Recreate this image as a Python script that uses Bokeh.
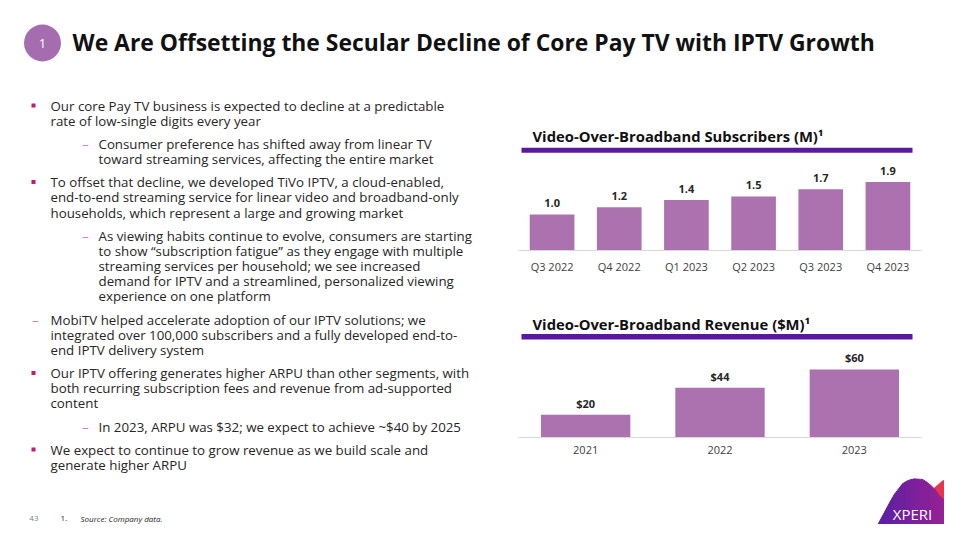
import numpy as np
from bokeh.plotting import figure
from bokeh.layouts import column, row
from bokeh.models import Range1d, FactorRange, ColumnDataSource, LabelSet
from bokeh.core.properties import value
from bokeh.embed import file_html
from bokeh.resources import INLINE

# ---------------- data ----------------
quarters = ["Q3 2022", "Q4 2022", "Q1 2023", "Q2 2023", "Q3 2023", "Q4 2023"]
subscribers = [1.0, 1.2, 1.4, 1.5, 1.7, 1.9]
subscriber_labels = ["1.0", "1.2", "1.4", "1.5", "1.7", "1.9"]

years = ["2021", "2022", "2023"]
revenue = [20, 44, 60]
revenue_labels = ["$20", "$44", "$60"]

slide_title = "We Are Offsetting the Secular Decline of Core Pay TV with IPTV Growth"
chart1_title = "Video-Over-Broadband Subscribers (M)\u00b9"
chart2_title = "Video-Over-Broadband Revenue ($M)\u00b9"

paragraphs = [
    ("bullet", 0, ["Our core Pay TV business is expected to decline at a predictable",
                   "rate of low-single digits every year"]),
    ("dash", 1, ["Consumer preference has shifted away from linear TV",
                 "toward streaming services, affecting the entire market"]),
    ("bullet", 0, ["To offset that decline, we developed TiVo IPTV, a cloud-enabled,",
                   "end-to-end streaming service for linear video and broadband-only",
                   "households, which represent a large and growing market"]),
    ("dash", 1, ["As viewing habits continue to evolve, consumers are starting",
                 "to show \u201csubscription fatigue\u201d as they engage with multiple",
                 "streaming services per household; we see increased",
                 "demand for IPTV and a streamlined, personalized viewing",
                 "experience on one platform"]),
    ("dash", 0, ["MobiTV helped accelerate adoption of our IPTV solutions; we",
                 "integrated over 100,000 subscribers and a fully developed end-to-",
                 "end IPTV delivery system"]),
    ("bullet", 0, ["Our IPTV offering generates higher ARPU than other segments, with",
                   "both recurring subscription fees and revenue from ad-supported",
                   "content"]),
    ("dash", 1, ["In 2023, ARPU was $32; we expect to achieve ~$40 by 2025"]),
    ("bullet", 0, ["We expect to continue to grow revenue as we build scale and",
                   "generate higher ARPU"]),
]

page_number = "43"
footnote_mark = "1."
footnote_text = "Source: Company data."
logo_text = "XPERI"

# ---------------- style ----------------
FONT = "Open Sans"
BAR = "#AC72B0"
RULE = "#5A189E"
TEXT = "#262626"
BULLET = "#C2187A"
DASH = "#D880AA"

# frame borders shared by the right-hand column (keeps aligned frames identical)
BL, BR = 18, 23
FX0, FX1 = 518, 921


def canvas(w, h, x0, x1, y0, y1, bl=0, br=0):
    p = figure(width=w, height=h, x_range=Range1d(x0, x1), y_range=Range1d(y1, y0),
               output_backend="svg", toolbar_location=None, title=None, min_border=0,
               min_border_left=bl, min_border_right=br,
               x_axis_location=None, y_axis_location=None)
    p.grid.visible = False
    p.outline_line_color = None
    p.background_fill_color = "white"
    p.border_fill_color = "white"
    return p


def bar_chart(cats, vals, labels, h, top, mb_bottom):
    p = figure(width=444, height=h, x_range=FactorRange(*cats), y_range=Range1d(0, top),
               output_backend="svg", toolbar_location=None, title=None,
               y_axis_location=None,
               min_border_left=BL, min_border_right=BR, min_border_top=5,
               min_border_bottom=mb_bottom)
    src = ColumnDataSource(dict(x=cats, top=vals, label=labels))
    p.vbar(x="x", top="top", width=0.665, source=src, fill_color=BAR, line_color=None)
    p.add_layout(LabelSet(x="x", y="top", text="label", source=src, text_align="center",
                          text_baseline="middle", y_offset=11.5,
                          text_font=value(FONT), text_font_style="bold",
                          text_font_size="11px", text_color=TEXT))
    p.grid.visible = False
    p.outline_line_color = None
    ax = p.xaxis[0]
    ax.axis_line_color = "#D9D9D9"
    ax.major_tick_line_color = None
    ax.minor_tick_line_color = None
    ax.major_tick_out = 0
    ax.major_tick_in = 0
    ax.major_label_text_font = FONT
    ax.major_label_text_font_size = "11px"
    ax.major_label_text_color = "#404040"
    ax.major_label_standoff = 8
    return p


# ---------------- header ----------------
header = canvas(944, 95, 0, 944, 0, 95)
header.scatter([42], [42.5], marker="circle", size=37, fill_color="#A56DAF", line_color=None)
header.text([42], [43], text=["1"], text_font=value(FONT), text_font_size="13px",
            text_color="white", text_align="center", text_baseline="middle")
header.text([72], [41.5], text=[slide_title], text_font=value(FONT), text_font_style="bold",
            text_font_size="22.9px", text_color="#111111", text_align="left",
            text_baseline="middle")

# ---------------- left text ----------------
left = canvas(500, 383, 0, 500, 95, 478)
y = 105.0
LINE = 15.2
GAP = 23.1
bx, by, dx, dy = [], [], [], []
tx, ty, tt = [], [], []
for kind, level, lines in paragraphs:
    mx = 33 if level == 0 else 83
    txt_x = 50 if level == 0 else 98
    if kind == "bullet":
        bx.append(mx); by.append(y)
    else:
        dx.append(mx + 2); dy.append(y)
    for i, ln in enumerate(lines):
        tx.append(txt_x); ty.append(y); tt.append(ln)
        if i < len(lines) - 1:
            y += LINE
    y += GAP

left.rect(bx, by, width=4, height=4, fill_color=BULLET, line_color=None)
left.text(dx, dy, text=["\u2013"] * len(dx), text_font=value(FONT), text_font_size="13px",
          text_color=DASH, text_align="center", text_baseline="middle")
left.text(tx, ty, text=tt, text_font=value(FONT), text_font_size="13.3px",
          text_color=TEXT, text_align="left", text_baseline="middle")

# ---------------- chart 1 ----------------
c1_head = canvas(444, 60, FX0, FX1, 95, 155, BL, BR)
c1_head.text([532], [135.5], text=[chart1_title], text_font=value(FONT), text_font_style="bold",
             text_font_size="14.8px", text_color="#111111", text_align="left",
             text_baseline="middle")
c1_head.quad(left=[521], right=[912], top=[147.3], bottom=[152.3], fill_color=RULE,
             line_color=None)

c1 = bar_chart(quarters, subscribers, subscriber_labels, 135, 2.5, 40)

# ---------------- chart 2 ----------------
c2_head = canvas(444, 52, FX0, FX1, 290, 342, BL, BR)
c2_head.text([532], [323.5], text=[chart2_title], text_font=value(FONT), text_font_style="bold",
             text_font_size="14.8px", text_color="#111111", text_align="left",
             text_baseline="middle")
c2_head.quad(left=[521], right=[912], top=[333.5], bottom=[339], fill_color=RULE,
             line_color=None)

c2 = bar_chart(years, revenue, revenue_labels, 136, 79.4, 41)

# ---------------- footer / logo ----------------
foot = canvas(944, 46, 0, 944, 478, 524)
foot.text([38], [518], text=[page_number], text_font=value(FONT), text_font_size="8px",
          text_color="#7F7F7F", text_align="right", text_baseline="middle")
foot.text([60], [518], text=[footnote_mark], text_font=value(FONT), text_font_size="8px",
          text_color=TEXT, text_align="left", text_baseline="middle")
foot.text([80], [518], text=[footnote_text], text_font=value(FONT), text_font_size="8px",
          text_font_style="italic", text_color=TEXT, text_align="left",
          text_baseline="middle")

red_x = [926, 934, 942, 948, 954, 962, 962, 926]
red_y = [505, 487, 480, 478, 479, 484, 540, 540]
foot.patch(red_x, red_y, fill_color="#E8344E", line_color=None)
cx = [850, 893, 903, 913, 923, 933, 940, 962]
cy = [575, 495, 482, 478, 479, 487, 497, 511]
edges = np.arange(858, 962, 4.0)
c0 = np.array([0x4A, 0x1F, 0xA8])
c1c = np.array([0xA8, 0x22, 0x90])
pxs, pys, cols = [], [], []
for xa in edges:
    xb = xa + 4
    t = (xa - 858) / 104.0
    col = (c0 * (1 - t) + c1c * t).astype(int)
    pxs.append([xa, xb, xb, xa])
    pys.append([float(np.interp(xa, cx, cy)), float(np.interp(xb, cx, cy)), 540, 540])
    cols.append("#%02x%02x%02x" % tuple(col))
foot.patches(pxs, pys, fill_color=cols, line_color=cols, line_width=1)
foot.text([912], [513], text=[logo_text], text_font=value(FONT), text_font_size="15px",
          text_color="white", text_align="center", text_baseline="middle")

layout = column(header, row(left, column(c1_head, c1, c2_head, c2)), foot)

open("out.html", "w").write(file_html(layout, INLINE))
